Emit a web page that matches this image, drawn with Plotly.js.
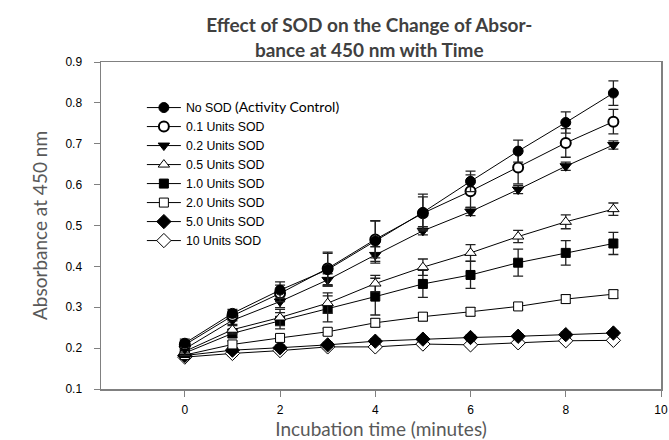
<!DOCTYPE html>
<html>
<head>
<meta charset="utf-8">
<script src="https://cdn.plot.ly/plotly-3.0.1.min.js"></script>
<style>html,body{margin:0;padding:0;background:#fff;}#chart{width:669px;height:440px;}</style>
</head>
<body>
<div id="chart"></div>
<script>
var time = [0,1,2,3,4,5,6,7,8,9];
var seriesNames = ['No SOD <span style="font-family:Lato;font-size:14px">(Activity Control)</span>','0.1 Units SOD','0.2 Units SOD','0.5 Units SOD','1.0 Units SOD','2.0 Units SOD','5.0 Units SOD','10 Units SOD'];
var noSOD   = [0.212,0.285,0.342,0.392,0.462,0.532,0.608,0.682,0.752,0.824];
var noSODErr= [0.010,0.010,0.020,0.040,0.050,0.045,0.025,0.027,0.026,0.030];
var u01     = [0.208,0.279,0.334,0.395,0.466,0.530,0.584,0.642,0.702,0.754];
var u01Err  = [0.010,0.012,0.020,0.040,0.045,0.040,0.040,0.040,0.035,0.030];
var u02     = [0.198,0.268,0.314,0.367,0.428,0.487,0.534,0.588,0.645,0.697];
var u02Err  = [0.008,0.010,0.015,0.015,0.020,0.010,0.010,0.010,0.010,0.010];
var u05     = [0.192,0.245,0.275,0.310,0.358,0.398,0.433,0.473,0.509,0.540];
var u05Err  = [0.010,0.010,0.020,0.025,0.020,0.020,0.020,0.015,0.017,0.015];
var u10     = [0.188,0.236,0.267,0.296,0.326,0.357,0.379,0.409,0.433,0.456];
var u10Err  = [0.010,0.010,0.020,0.032,0.045,0.033,0.033,0.033,0.030,0.027];
var u20     = [0.183,0.209,0.225,0.240,0.262,0.277,0.289,0.302,0.320,0.332];
var u20Err  = [0.008,0.008,0.008,0.008,0.010,0.010,0.010,0.008,0.010,0.010];
var u50     = [0.182,0.195,0.201,0.208,0.217,0.222,0.226,0.229,0.233,0.237];
var u50Err  = [0.006,0.006,0.006,0.006,0.006,0.006,0.006,0.006,0.006,0.006];
var u100    = [0.178,0.187,0.194,0.203,0.203,0.210,0.208,0.213,0.218,0.219];
var u100Err = [0.005,0.005,0.005,0.005,0.005,0.005,0.005,0.005,0.005,0.005];
var xTicks = [0,2,4,6,8,10];
var yTicks = [0.1,0.2,0.3,0.4,0.5,0.6,0.7,0.8,0.9];

var values = [noSOD,u01,u02,u05,u10,u20,u50,u100];
var errs = [noSODErr,u01Err,u02Err,u05Err,u10Err,u20Err,u50Err,u100Err];
var symbols = ['circle','circle','triangle-down','triangle-up','square','square','diamond','diamond'];
var fills = ['#000','#fff','#000','#fff','#000','#fff','#000','#fff'];
var sizes = [10,10,10,10,9,9,11,11];
var lw = [1,2,1,1,1,1,1,1];

var traces = values.map(function(v,i){
  return {
    x: time, y: v, name: seriesNames[i], type:'scatter', mode:'lines+markers',
    line:{color:'#000', width:1},
    marker:{symbol:symbols[i], size:sizes[i], color:fills[i], line:{color:'#000', width:lw[i]}},
    error_y:{type:'data', array:errs[i], visible:true, color:'#222', thickness:1.3, width:5}
  };
});
traces.reverse();

var layout = {
  width:669, height:440,
  margin:{l:101, r:8, t:62, b:51},
  paper_bgcolor:'#fff', plot_bgcolor:'#fff',
  showlegend:true,
  title:{text:'<b>Effect of SOD on the Change of Absor-<br>bance at 450 nm with Time</b>',
    font:{family:'Lato', size:19, color:'#404040'},
    xref:'container', x:0.552, xanchor:'center', yref:'container', y:0.927, yanchor:'middle'},
  legend:{x:0.073, y:0.905, xanchor:'left', yanchor:'top', traceorder:'reversed', itemwidth:34,
    font:{family:'Liberation Sans, Arial', size:12.3, color:'#000'}, bgcolor:'rgba(0,0,0,0)', borderwidth:0},
  xaxis:{range:[-1.76,10], tickvals:xTicks, ticktext:xTicks.map(String), ticks:'outside', ticklen:6, tickwidth:1, tickcolor:'#808080',
    showline:true, linecolor:'#808080', linewidth:1.5, mirror:true, showgrid:false, zeroline:false,
    tickfont:{family:'Liberation Sans, Arial', size:12, color:'#000'}, ticklabelstandoff:3,
    title:{text:'Incubation time (minutes)', font:{family:'Lato', size:19, color:'#595959'}, standoff:6}},
  yaxis:{range:[0.1,0.9], tickvals:yTicks, ticktext:yTicks.map(function(v){return v.toFixed(1);}), ticks:'outside', ticklen:6, tickwidth:1, tickcolor:'#808080',
    showline:true, linecolor:'#808080', linewidth:1.5, mirror:true, showgrid:false, zeroline:false,
    tickfont:{family:'Liberation Sans, Arial', size:12, color:'#000'}, ticklabelstandoff:9,
    title:{text:'Absorbance at 450 nm', font:{family:'Lato', size:19, color:'#595959'}, standoff:13}}
};
Plotly.newPlot('chart', traces, layout, {displayModeBar:false, staticPlot:true});
</script>
</body>
</html>
